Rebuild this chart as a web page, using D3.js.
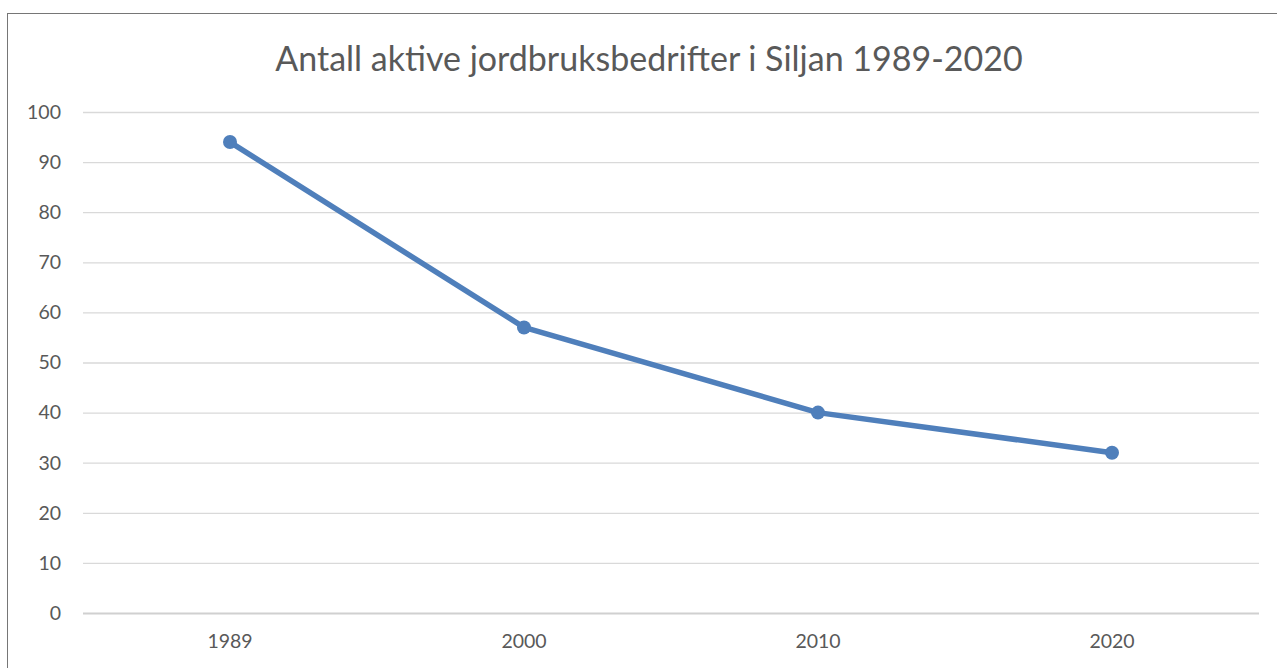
<!DOCTYPE html>
<html>
<head>
<meta charset="utf-8">
<script src="https://cdn.jsdelivr.net/npm/d3@7"></script>
<style>
  body { margin: 0; background: #fff; }
  svg { display: block; }
</style>
</head>
<body>
<svg width="1277" height="668"></svg>
<script>
// data
var title = "Antall aktive jordbruksbedrifter i Siljan 1989-2020";
var years = ["1989", "2000", "2010", "2020"];
var farms = [94, 57, 40, 32];
var yTicks = [0, 10, 20, 30, 40, 50, 60, 70, 80, 90, 100];

var svg = d3.select("svg");
var plotLeft = 83, plotRight = 1259, plotTop = 112, plotBottom = 613;
var textColor = "#595959";
var font = "Lato, 'Open Sans', sans-serif";

// outer frame
svg.append("rect")
  .attr("x", 7.5).attr("y", 13.5)
  .attr("width", 1277).attr("height", 700)
  .attr("fill", "#fff")
  .attr("stroke", "#767676")
  .attr("stroke-width", 1);

var x = d3.scaleBand().domain(years).range([plotLeft, plotRight]);
var y = d3.scaleLinear().domain([0, 100]).range([plotBottom, plotTop]);

// gridlines
svg.append("g").selectAll("line")
  .data(yTicks)
  .enter()
  .append("line")
  .attr("x1", plotLeft).attr("x2", plotRight)
  .attr("y1", d => y(d) + 0.5).attr("y2", d => y(d) + 0.5)
  .attr("stroke", d => d == 0 ? "#d0d0d0" : "#d9d9d9")
  .attr("stroke-width", d => d == 0 ? 2 : 1.3);

// y labels
svg.append("g").selectAll("text")
  .data(yTicks)
  .enter()
  .append("text")
  .attr("x", 61)
  .attr("y", d => y(d))
  .attr("dy", "0.35em")
  .attr("text-anchor", "end")
  .attr("fill", textColor)
  .style("font-family", font)
  .style("font-size", "19.5px")
  .text(d => d);

// x labels
svg.append("g").selectAll("text")
  .data(years)
  .enter()
  .append("text")
  .attr("x", d => x(d) + x.bandwidth() / 2)
  .attr("y", 648)
  .attr("text-anchor", "middle")
  .attr("fill", textColor)
  .style("font-family", font)
  .style("font-size", "19.5px")
  .text(d => d);

// title
svg.append("text")
  .attr("x", 649)
  .attr("y", 71)
  .attr("text-anchor", "middle")
  .attr("fill", textColor)
  .style("font-family", font)
  .style("font-size", "34px")
  .text(title);

var pts = years.map((d, i) => ({year: d, value: farms[i]}));

var line = d3.line()
  .x(d => x(d.year) + x.bandwidth() / 2)
  .y(d => y(d.value));

svg.append("path")
  .datum(pts)
  .attr("d", line)
  .attr("fill", "none")
  .attr("stroke", "#4f7fbb")
  .attr("stroke-width", 5.5)
  .attr("stroke-linejoin", "round");

svg.append("g").selectAll("circle")
  .data(pts)
  .enter()
  .append("circle")
  .attr("cx", d => x(d.year) + x.bandwidth() / 2)
  .attr("cy", d => y(d.value))
  .attr("r", 7)
  .attr("fill", "#4f7fbb");
</script>
</body>
</html>
